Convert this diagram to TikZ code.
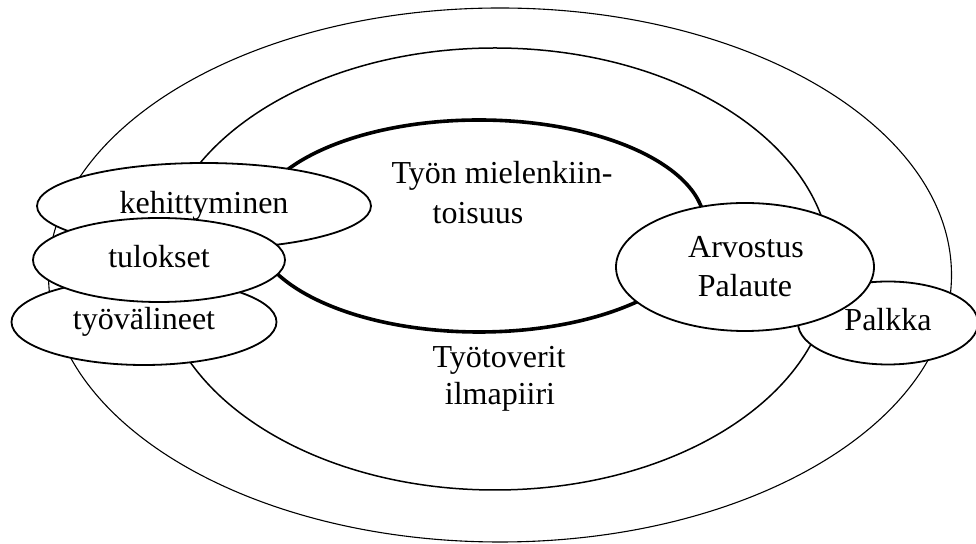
\documentclass[tikz,border=0pt]{standalone}
\usepackage{fontspec}
\setmainfont{Liberation Serif}
\usetikzlibrary{shapes.geometric}
\begin{document}
\begin{tikzpicture}[x=0.5pt,y=-0.5pt,
  font=\fontsize{16}{19}\selectfont,
  ring/.style={draw, line width=#1},
  bubble/.style={ellipse, draw, fill=white, line width=0.9pt, inner sep=0pt,
                 text height=11.2pt, text depth=3.2pt},
  caption/.style={anchor=base, inner sep=0pt}]
\useasboundingbox (0,0) rectangle (976,544);

% three nested rings
\draw[ring=0.55pt] (500,275) ellipse [x radius=225.75pt, y radius=133.5pt];
\draw[ring=0.75pt] (495,269) ellipse [x radius=168pt, y radius=110.5pt];
\draw[ring=1.8pt]  (479,226) ellipse [x radius=113pt, y radius=53pt];

% side bubbles, right group
\node[bubble, minimum width=90pt, minimum height=41.5pt] (palkka) at (888,323) {Palkka};
\node[bubble, minimum width=129pt, minimum height=64pt] (arvostus) at (745,267) {};

% side bubbles, left group
\node[bubble, minimum width=167pt, minimum height=43pt] (kehitys) at (204,206) {kehittyminen};
\node[bubble, minimum width=132.5pt, minimum height=43pt] (valineet) at (144,322) {työvälineet};
\node[bubble, minimum width=126pt, minimum height=42pt] (tulokset) at (159,260) {tulokset};

% ring labels
\node[caption] (core1) at (502,184) {Työn mielenkiin-};
\node[caption] (core2) at (478,224) {toisuus};
\node[caption] (mid1) at (499,368) {Työtoverit};
\node[caption] (mid2) at (500,405) {ilmapiiri};
\node[caption] (arv1) at (746,258) {Arvostus};
\node[caption] (arv2) at (745,297) {Palaute};
\end{tikzpicture}
\end{document}
